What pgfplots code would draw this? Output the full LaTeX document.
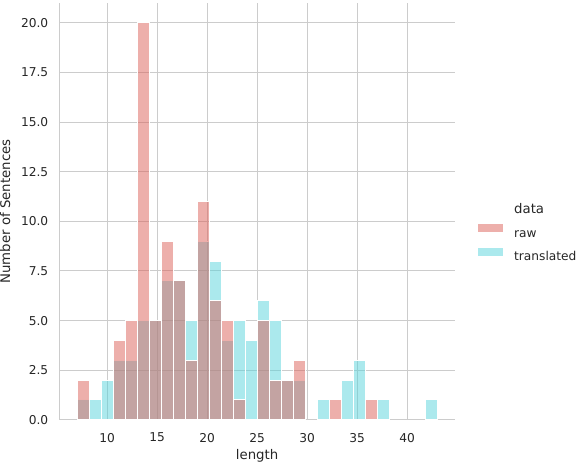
\documentclass[border=0pt]{standalone}
\usepackage{pgfplots}
\pgfplotsset{compat=1.18}
\usepackage{fontspec}
\setmainfont{DejaVu Sans}

\definecolor{rawc}{HTML}{DB5F57}
\definecolor{trc}{HTML}{57D3DB}
\definecolor{gridc}{HTML}{CCCCCC}
\definecolor{txt}{HTML}{262626}

\begin{document}
\begin{tikzpicture}
  \begin{axis}[
    scale only axis,
    width=396bp, height=417bp,
    xmin=5.2, xmax=44.8,
    ymin=0, ymax=21,
    axis x line*=bottom, axis y line*=left,
    axis line style={draw=gridc, line width=1bp, -},
    xtick={10,15,...,40},
    ytick={0,2.5,...,20},
    grid=major,
    major grid style={draw=gridc, line width=1bp},
    major tick length=0pt,
    font=\fontsize{13.3bp}{16bp}\selectfont,
    /pgf/number format/assume math mode=true,
    yticklabel style={/pgf/number format/fixed, /pgf/number format/fixed zerofill,
      /pgf/number format/precision=1},
    every tick label/.append style={text=txt, font=\fontsize{12.2bp}{14bp}\selectfont},
    xticklabel style={anchor=north, inner sep=0pt, yshift=-13bp},
    yticklabel style={anchor=east, inner sep=0pt, xshift=-10.8bp},
    xlabel={length},
    ylabel={Number of Sentences},
    xlabel style={at={(axis description cs:0.5,-0.0947)}, anchor=base, inner sep=0pt, text=txt},
    ylabel style={at={(axis description cs:-0.124,0.5)}, anchor=base, inner sep=0pt, text=txt},
    legend style={at={(axis description cs:1.058,0.447)}, anchor=west,
      draw=none, fill=none, inner sep=0pt, column sep=11bp, row sep=8bp,
      nodes={inner sep=0pt, text height=9.5bp, text depth=2.5bp, text=txt},
      font=\fontsize{12.2bp}{14bp}\selectfont},
    legend cell align=left,
    legend image code/.code={\fill[#1, draw=none] (0bp,1.2bp) rectangle (25bp,9.8bp);},
  ]
    \coordinate (sw) at (rel axis cs:0,0);

    \addlegendimage{empty legend}
    \addlegendentry{\fontsize{13.3bp}{16bp}\selectfont data}
    \addlegendimage{fill=rawc, fill opacity=0.5}
    \addlegendentry{raw}
    \addlegendimage{fill=trc, fill opacity=0.5}
    \addlegendentry{translated}

    % translated drawn first, raw on top (as seaborn does)
    \addplot[ybar, bar width=1.2, bar shift=0pt, fill=trc, fill opacity=0.5,
      draw=white, line width=1bp, forget plot] coordinates {
      (7.6,1) (8.8,1) (10.0,2) (11.2,3) (12.4,3) (13.6,5) (14.8,5)
      (16.0,7) (17.2,7) (18.4,5) (19.6,9) (20.8,8) (22.0,4) (23.2,5)
      (24.4,4) (25.6,6) (26.8,5) (28.0,2) (29.2,2) (31.6,1) (34.0,2)
      (35.2,3) (37.6,1) (42.4,1)
    };
    \addplot[ybar, bar width=1.2, bar shift=0pt, fill=rawc, fill opacity=0.5,
      draw=white, line width=1bp, forget plot] coordinates {
      (7.6,2) (11.2,4) (12.4,5) (13.6,20) (14.8,5) (16.0,9) (17.2,7)
      (18.4,3) (19.6,11) (20.8,6) (22.0,5) (23.2,1) (25.6,5) (26.8,2)
      (28.0,2) (29.2,3) (32.8,1) (36.4,1)
    };
  \end{axis}
  \path (sw) ++(-59bp,-42bp) rectangle ++(582bp,462bp);
\end{tikzpicture}
\end{document}
